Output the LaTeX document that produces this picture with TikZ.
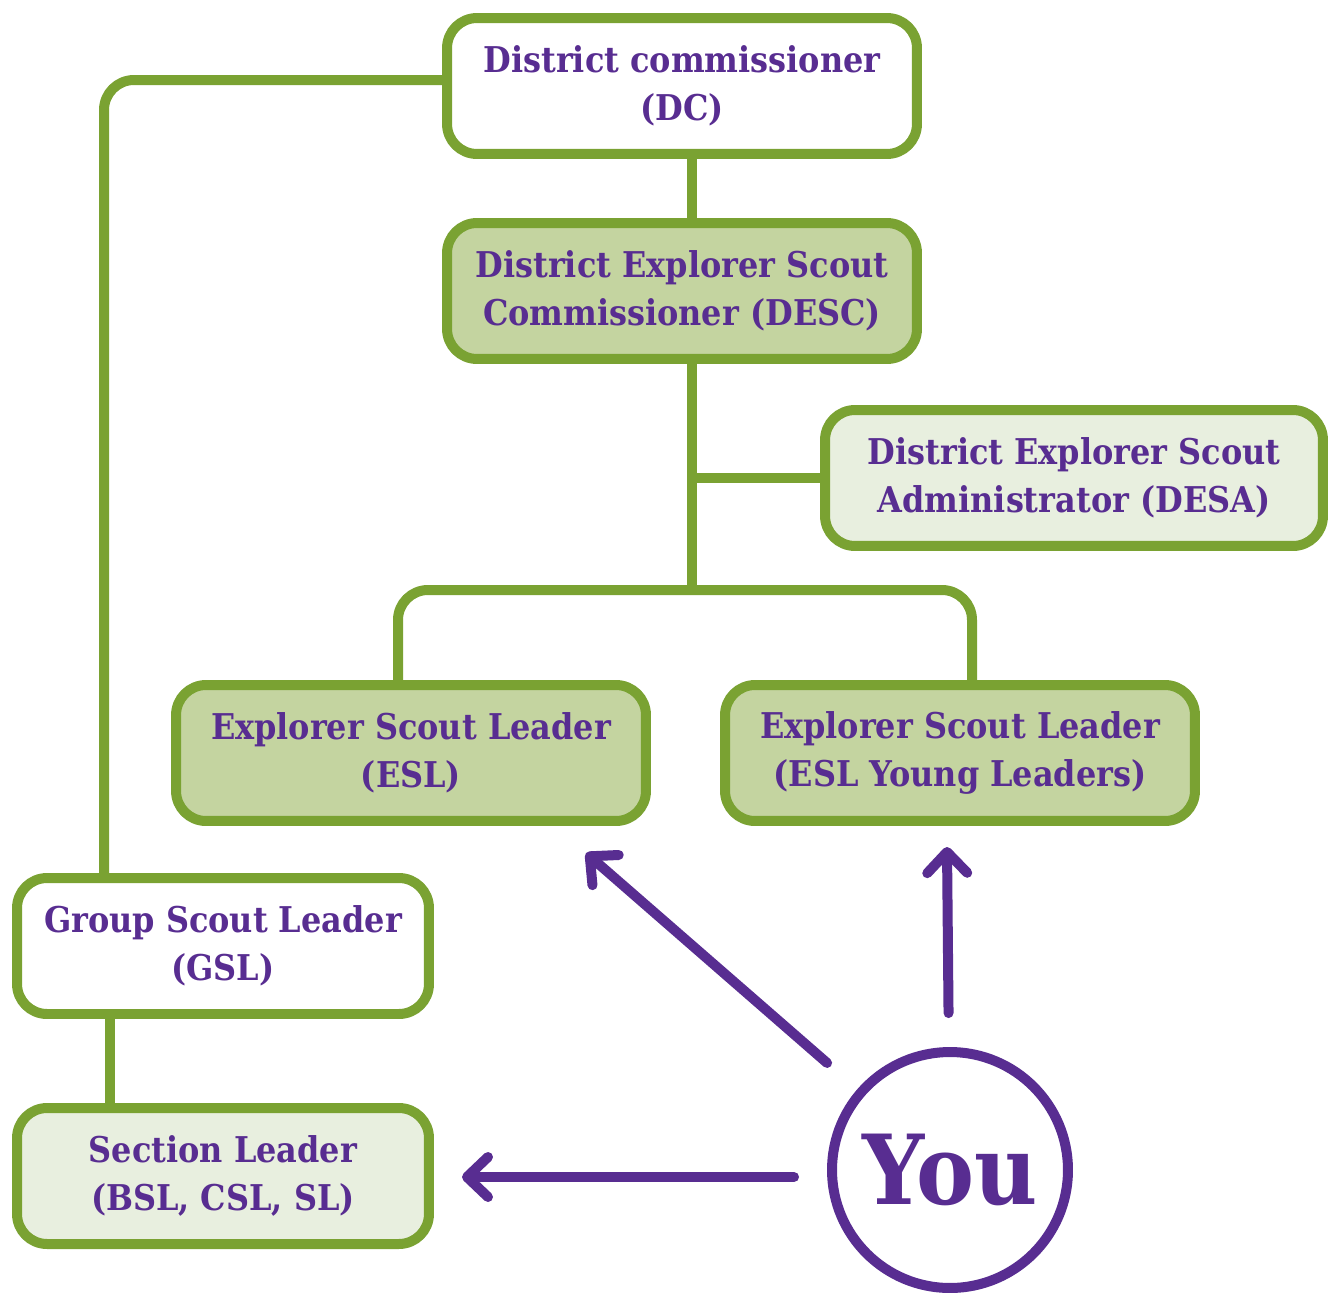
\documentclass[tikz,border=0pt]{standalone}
\usepackage{fontspec}
\setmainfont{DejaVu Serif Condensed}
\usetikzlibrary{arrows.meta}
\definecolor{scoutgreen}{RGB}{122,162,50}
\definecolor{scoutpurple}{RGB}{88,45,145}
\definecolor{darkfill}{RGB}{196,212,160}
\definecolor{lightfill}{RGB}{232,239,223}

\begin{document}
\begin{tikzpicture}[x=0.02cm, y=-0.02cm, >={Straight Barb[length=0.42cm, width=0.8cm, round]},
  box/.style={draw=scoutgreen, line width=0.2cm, rounded corners=0.6cm, align=center, minimum width=9.4cm, minimum height=2.72cm, text=scoutpurple, font=\bfseries\fontsize{20.2}{27.5}\selectfont},
  dark/.style={box, fill=darkfill},
  light/.style={box, fill=lightfill},
  link/.style={draw=scoutgreen, line width=0.2cm, rounded corners=0.6cm},
  pointer/.style={->, draw=scoutpurple, line width=0.2cm, line cap=round}]
  \useasboundingbox (0,0) rectangle (1332,1295);
  \node[box] (dc) at (682,86) {District commissioner\\(DC)};
  \node[dark] (desc) at (682,291) {District Explorer Scout\\Commissioner (DESC)};
  \node[light, minimum width=9.96cm] (desa) at (1074,478) {District Explorer Scout\\Administrator (DESA)};
  \node[dark] (esl) at (411,753) {Explorer Scout Leader\\(ESL)};
  \node[dark] (eslyl) at (960,753) {Explorer Scout Leader\\(ESL Young Leaders)};
  \node[box, minimum width=8.24cm] (gsl) at (223,946) {Group Scout Leader\\(GSL)};
  \node[light, minimum width=8.24cm] (sl) at (223,1176) {Section Leader\\(BSL, CSL, SL)};
  \node[circle, draw=scoutpurple, line width=0.2cm, minimum size=4.72cm, text=scoutpurple, font=\bfseries\fontsize{55}{60}\selectfont] (you) at (950,1170) {You};
  \coordinate (bus) at (692,590);
  \coordinate (tipesl) at (586,853);
  \coordinate (tipyl) at (947,847);
  \coordinate (tipsl) at (462,1177);
  % green lines
  \draw[link] ([shift={(10,0)}]dc.south) -- ([shift={(10,0)}]desc.north);
  \draw[link] ([shift={(10,0)}]desc.south) -- (bus);
  \draw[link] (desa.west) -- (desa.west -| bus);
  \draw[link] ([shift={(-13,0)}]esl.north) |- (bus) -| ([shift={(12,0)}]eslyl.north);
  \draw[link] ([shift={(0,-6)}]dc.west) -| ([shift={(-119,0)}]gsl.north);
  \draw[link] ([shift={(-113,0)}]gsl.south) -- ([shift={(-113,0)}]sl.north);
  % purple arrows
  \draw[pointer, shorten <=0.8cm] (you) -- (tipesl);
  \draw[pointer, shorten <=0.68cm] (you) -- (tipyl);
  \draw[pointer, shorten <=0.66cm] (you.west |- tipsl) -- (tipsl);
\end{tikzpicture}
\end{document}
